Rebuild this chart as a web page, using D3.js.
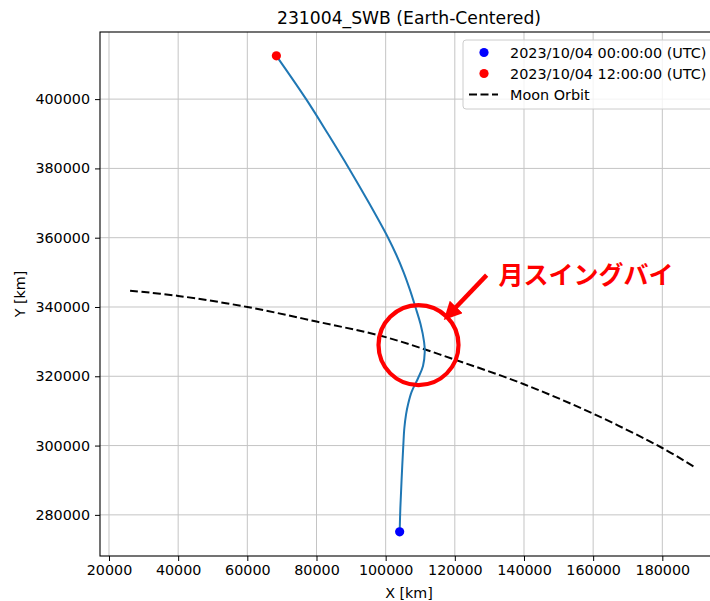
<!DOCTYPE html>
<html lang="ja">
<head>
  <meta charset="UTF-8">
  <title>231004_SWB (Earth-Centered)</title>
  <script src="https://d3js.org/d3.v7.min.js"></script>
  <style>
    body { margin: 0; padding: 0; background: #fff; }
    svg { display: block; font-family: "DejaVu Sans", sans-serif; }
    .grid line { stroke: #c4c4c4; stroke-width: 1; }
    .axis path, .axis line { stroke: #000; }
  </style>
</head>
<body>
  <svg width="710" height="601"></svg>

  <script>
    // spacecraft track, 00:00 (bottom) to 12:00 (top), km
    const trajX = [104050, 104250, 104600, 105100, 105400, 105900, 106500, 107500, 109400, 110800,
                   111300, 111100, 110100, 108600, 107000, 105200, 103100, 100700, 95200, 89400,
                   83300, 77000, 68400];
    const trajY = [275100, 282000, 290000, 300000, 305000, 309000, 312000, 315500, 319500, 323000,
                   327000, 330000, 335000, 340000, 345000, 350000, 355000, 360000, 370000, 380000,
                   390000, 400000, 412500];

    // moon orbit segment, km
    const moonX = [26100, 40000, 60000, 80000, 100000, 120000, 140000, 160000, 180000, 189000];
    const moonY = [344700, 343200, 340000, 335800, 331300, 324800, 317700, 309200, 299300, 294000];

    const xTicks = [20000, 40000, 60000, 80000, 100000, 120000, 140000, 160000, 180000];
    const yTicks = [280000, 300000, 320000, 340000, 360000, 380000, 400000];

    const legendLabels = ["2023/10/04 00:00:00 (UTC)", "2023/10/04 12:00:00 (UTC)", "Moon Orbit"];

    // annotation (data coords)
    const flybyCenter = [109500, 329000];
    const arrowFrom = [129200, 349200];
    const arrowTo = [118100, 337600];
    const labelAt = [132600, 349700];
    const labelText = "月スイングバイ";

    const margin = { left: 100, top: 32, right: 718, bottom: 556 };
    const svg = d3.select("svg");

    const x = d3.scaleLinear().domain([17400, 196100]).range([margin.left, margin.right]);
    const y = d3.scaleLinear().domain([268125, 419375]).range([margin.bottom, margin.top]);

    // grid
    const grid = svg.append("g").attr("class", "grid");
    grid.selectAll(".gx").data(xTicks).enter().append("line")
      .attr("x1", d => x(d)).attr("x2", d => x(d))
      .attr("y1", margin.top).attr("y2", margin.bottom);
    grid.selectAll(".gy").data(yTicks).enter().append("line")
      .attr("x1", margin.left).attr("x2", margin.right)
      .attr("y1", d => y(d)).attr("y2", d => y(d));

    // moon orbit
    const line = d3.line().x(d => x(d[0])).y(d => y(d[1])).curve(d3.curveCatmullRom);
    svg.append("path")
      .datum(moonX.map((v, i) => [v, moonY[i]]))
      .attr("d", line)
      .attr("fill", "none")
      .attr("stroke", "#000")
      .attr("stroke-width", 2)
      .attr("stroke-dasharray", "8,3.5");

    // trajectory
    svg.append("path")
      .datum(trajX.map((v, i) => [v, trajY[i]]))
      .attr("d", line)
      .attr("fill", "none")
      .attr("stroke", "#1f77b4")
      .attr("stroke-width", 2);

    // start / end markers
    const ends = [
      { p: [trajX[0], trajY[0]], c: "#0000ff" },
      { p: [trajX[trajX.length - 1], trajY[trajY.length - 1]], c: "#ff0000" }
    ];
    svg.selectAll(".end").data(ends).enter().append("circle")
      .attr("cx", d => x(d.p[0])).attr("cy", d => y(d.p[1]))
      .attr("r", 4.6).attr("fill", d => d.c);

    // axes
    const tickText = g => g.selectAll("text")
      .style("font-family", "'DejaVu Sans', sans-serif")
      .style("font-size", "14.3px")
      .attr("fill", "#000");

    svg.append("g").attr("class", "axis")
      .attr("transform", `translate(0,${margin.bottom})`)
      .call(d3.axisBottom(x).tickValues(xTicks).tickFormat(d3.format("d")).tickSize(5).tickPadding(4))
      .call(g => g.select(".domain").remove())
      .call(tickText);
    svg.append("g").attr("class", "axis")
      .attr("transform", `translate(${margin.left},0)`)
      .call(d3.axisLeft(y).tickValues(yTicks).tickFormat(d3.format("d")).tickSize(5).tickPadding(5))
      .call(g => g.select(".domain").remove())
      .call(tickText);

    // frame
    svg.append("rect")
      .attr("x", margin.left).attr("y", margin.top)
      .attr("width", margin.right - margin.left).attr("height", margin.bottom - margin.top)
      .attr("fill", "none").attr("stroke", "#000").attr("stroke-width", 1.1);

    // titles
    svg.append("text")
      .attr("x", (margin.left + margin.right) / 2).attr("y", 24)
      .attr("text-anchor", "middle").style("font-size", "17.2px")
      .text("231004_SWB (Earth-Centered)");
    svg.append("text")
      .attr("x", (margin.left + margin.right) / 2).attr("y", 598)
      .attr("text-anchor", "middle").style("font-size", "14.3px")
      .text("X [km]");
    svg.append("text")
      .attr("transform", `translate(25,${(margin.top + margin.bottom) / 2}) rotate(-90)`)
      .attr("text-anchor", "middle").style("font-size", "14.3px")
      .text("Y [km]");

    // legend
    const lg = svg.append("g").attr("transform", "translate(463,40)");
    lg.append("rect")
      .attr("width", 256).attr("height", 69).attr("rx", 3)
      .attr("fill", "#fff").attr("fill-opacity", 0.8)
      .attr("stroke", "#cccccc");
    legendLabels.forEach((t, i) => {
      const yy = 12.5 + i * 21;
      if (i < 2) {
        lg.append("circle").attr("cx", 21).attr("cy", yy).attr("r", 4.6)
          .attr("fill", ends[i].c);
      } else {
        lg.append("line").attr("x1", 6).attr("x2", 35).attr("y1", yy).attr("y2", yy)
          .attr("stroke", "#000").attr("stroke-width", 2).attr("stroke-dasharray", "8,3.5");
      }
      lg.append("text").attr("x", 47).attr("y", yy + 5).style("font-size", "14.4px").text(t);
    });

    // flyby annotation
    svg.append("circle")
      .attr("cx", x(flybyCenter[0])).attr("cy", y(flybyCenter[1])).attr("r", 40)
      .attr("fill", "none").attr("stroke", "#ff0000").attr("stroke-width", 4.2);

    svg.append("defs").append("marker")
      .attr("id", "head").attr("viewBox", "0 0 10 10")
      .attr("refX", 2).attr("refY", 5)
      .attr("markerWidth", 4).attr("markerHeight", 4)
      .attr("orient", "auto")
      .append("path").attr("d", "M0,0 L10,5 L0,10 z").attr("fill", "#ff0000");

    const ax0 = x(arrowFrom[0]), ay0 = y(arrowFrom[1]);
    const ax1 = x(arrowTo[0]), ay1 = y(arrowTo[1]);
    const len = Math.hypot(ax1 - ax0, ay1 - ay0);
    const sh = 8; // pull line back so the head tip lands on arrowTo
    svg.append("line")
      .attr("x1", ax0).attr("y1", ay0)
      .attr("x2", ax1 - (ax1 - ax0) / len * sh).attr("y2", ay1 - (ay1 - ay0) / len * sh)
      .attr("stroke", "#ff0000").attr("stroke-width", 4.5)
      .attr("marker-end", "url(#head)");

    svg.append("text")
      .attr("x", x(labelAt[0])).attr("y", y(labelAt[1]))
      .attr("dominant-baseline", "central")
      .style("font-family", "'Noto Sans CJK JP', sans-serif")
      .style("font-weight", "bold").style("font-size", "25px")
      .attr("fill", "#ff0000")
      .text(labelText);
  </script>
</body>
</html>
